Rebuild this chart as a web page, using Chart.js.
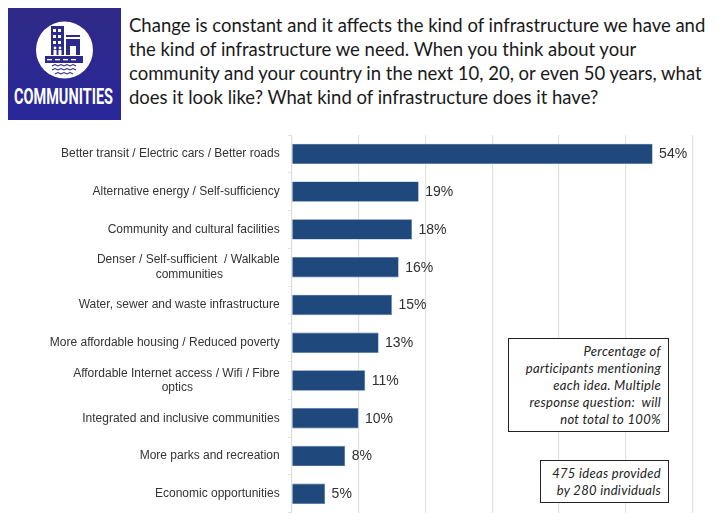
<!DOCTYPE html>
<html>
<head>
<meta charset="utf-8">
<title>Communities</title>
<script src="https://cdn.jsdelivr.net/npm/chart.js@4"></script>
<style>
  html, body { margin: 0; padding: 0; background: #fff; width: 719px; height: 529px; overflow: hidden; }
  #logo { position: absolute; left: 8px; top: 8px; width: 113px; height: 112px; }
  #question { position: absolute; left: 129px; top: 13px; font: 18.5px/24px Lato, sans-serif; color: #1a1a1a; white-space: nowrap; }
  #wrap { position: absolute; left: 0; top: 125px; width: 719px; height: 404px; }
  .note { position: absolute; box-sizing: border-box; background: #fff; border: 1px solid #222; font: italic 13px/17px Lato, sans-serif; letter-spacing: 0.3px; color: #222; text-align: right; white-space: pre; padding: 4px 7px 0 0; }
  #note1 { left: 508px; top: 338px; width: 161px; height: 94px; }
  #note2 { left: 540px; top: 460px; width: 129px; height: 43px; }
</style>
</head>
<body>
<svg id="logo" viewBox="0 0 113 112">
  <defs>
    <linearGradient id="bg" x1="0" y1="0" x2="0" y2="1">
      <stop offset="0" stop-color="#2f2a86"/>
      <stop offset="1" stop-color="#29279a"/>
    </linearGradient>
  </defs>
  <rect width="113" height="112" fill="url(#bg)"/>
  <circle cx="56.5" cy="42" r="28.5" fill="#fff"/>
  <g fill="#2c2a8c">
    <path d="M43 18h13v29h-13z"/>
    <path d="M58 27h14v2h-14zM58 31h14v16h-4v-9h-6v9h-4z"/>
    <path d="M37 48h38v7h-38z"/>
  </g>
  <g fill="#fff">
    <rect x="45" y="21" width="3" height="3"/><rect x="50" y="21" width="3" height="3"/>
    <rect x="45" y="27" width="3" height="3"/><rect x="50" y="27" width="3" height="3"/>
    <rect x="45" y="33" width="3" height="3"/><rect x="50" y="33" width="3" height="3"/>
    <circle cx="47" cy="40" r="1.4"/><circle cx="52" cy="40" r="1.4"/>
    <rect x="45.5" y="42" width="3" height="5"/><rect x="50.5" y="42" width="3" height="5"/>
    <rect x="39" y="51" width="5" height="1.3"/><rect x="47" y="51" width="5" height="1.3"/>
    <rect x="55" y="51" width="5" height="1.3"/><rect x="63" y="51" width="5" height="1.3"/>
  </g>
  <g fill="none" stroke="#2c2a8c" stroke-width="1.1">
    <path d="M44 58l3-1.5 3 1.5 3-1.5 3 1.5 3-1.5 3 1.5 3-1.5 3 1.5"/>
    <path d="M44 62l3-1.5 3 1.5 3-1.5 3 1.5 3-1.5 3 1.5 3-1.5 3 1.5"/>
    <path d="M47 66l3-1.5 3 1.5 3-1.5 3 1.5 3-1.5 3 1.5"/>
  </g>
  <text x="6" y="95.5" font-family="Roboto, sans-serif" font-weight="700" font-size="21.5" fill="#fff" textLength="99" lengthAdjust="spacingAndGlyphs">COMMUNITIES</text>
</svg>

<div id="question">Change is constant and it affects the kind of infrastructure we have and<br>the kind of infrastructure we need. When you think about your<br>community and your country in the next 10, 20, or even 50 years, what<br>does it look like? What kind of infrastructure does it have?</div>

<div id="wrap"><canvas id="chart"></canvas></div>

<div class="note" id="note1">Percentage of<br>participants mentioning<br>each idea. Multiple<br>response question:  will<br>not total to 100%</div>
<div class="note" id="note2">475 ideas provided<br>by 280 individuals</div>

<script>
// ===== data =====
var CATEGORIES = [
  "Better transit / Electric cars / Better roads",
  "Alternative energy / Self-sufficiency",
  "Community and cultural facilities",
  ["Denser / Self-sufficient  / Walkable", "communities"],
  "Water, sewer and waste infrastructure",
  "More affordable housing / Reduced poverty",
  ["Affordable Internet access / Wifi / Fibre", "optics"],
  "Integrated and inclusive communities",
  "More parks and recreation",
  "Economic opportunities"
];
var VALUES = [54, 19, 18, 16, 15, 13, 11, 10, 8, 5];
var X_TICKS = [0, 10, 20, 30, 40, 50, 60];

var LABEL_FONT = "12px 'Liberation Sans', Arial, sans-serif";
var VALUE_FONT = "14px 'Liberation Sans', Arial, sans-serif";

// Wrapped labels sit right-aligned as a block, with the short line centred under
// the long one, so the short line gets padded with no-break spaces.
var measure = document.createElement("canvas").getContext("2d");
measure.font = LABEL_FONT;
function tickLabel(value) {
  var label = CATEGORIES[value];
  if (!Array.isArray(label)) return label;
  var gap = measure.measureText(label[0]).width - measure.measureText(label[1]).width;
  var count = Math.round(gap / 2 / measure.measureText("\u00A0").width);
  return [label[0], label[1] + "\u00A0".repeat(count)];
}

// value labels at the end of each bar
var valueLabels = {
  id: "valueLabels",
  afterDatasetsDraw: function (chart) {
    var ctx = chart.ctx;
    var bars = chart.getDatasetMeta(0).data;
    ctx.save();
    ctx.font = VALUE_FONT;
    ctx.fillStyle = "#303030";
    ctx.textAlign = "left";
    ctx.textBaseline = "middle";
    for (var i = 0; i < bars.length; i++) {
      ctx.fillText(VALUES[i] + "%", bars[i].x + 6.5, bars[i].y + 0.5);
    }
    ctx.restore();
  }
};

new Chart(document.getElementById("chart"), {
  type: "bar",
  data: {
    labels: CATEGORIES,
    datasets: [{
      data: VALUES,
      backgroundColor: "#1f497d",
      borderColor: "#4f75a5",
      borderWidth: 0.6,
      barPercentage: 0.54,
      categoryPercentage: 1
    }]
  },
  plugins: [valueLabels],
  options: {
    indexAxis: "y",
    responsive: true,
    maintainAspectRatio: false,
    animation: false,
    layout: { padding: { top: 10, right: 26.3, bottom: 16.3, left: 0 } },
    plugins: { legend: { display: false }, tooltip: { enabled: false } },
    scales: {
      x: {
        min: 0,
        max: 60,
        afterBuildTicks: function (scale) {
          scale.ticks = X_TICKS.map(function (v) { return { value: v }; });
        },
        afterFit: function (scale) { scale.height = 0; },
        ticks: { display: false },
        border: { display: false },
        grid: { color: "#e2e2e2", lineWidth: 1.2, drawTicks: false }
      },
      y: {
        // fixed plot area: ignore the room chart.js keeps for the first and last label
        afterFit: function (scale) {
          scale.width = 291.7;
          scale.paddingTop = 0;
          scale.paddingBottom = 0;
        },
        border: { color: "#dcdcdc", width: 1 },
        grid: { drawOnChartArea: false, drawTicks: true, tickLength: 4, color: "#e2e2e2", offset: true },
        ticks: {
          autoSkip: false,
          color: "#333",
          font: { family: "'Liberation Sans', Arial, sans-serif", size: 12 },
          padding: 8,
          callback: tickLabel
        }
      }
    }
  }
});
</script>
</body>
</html>
